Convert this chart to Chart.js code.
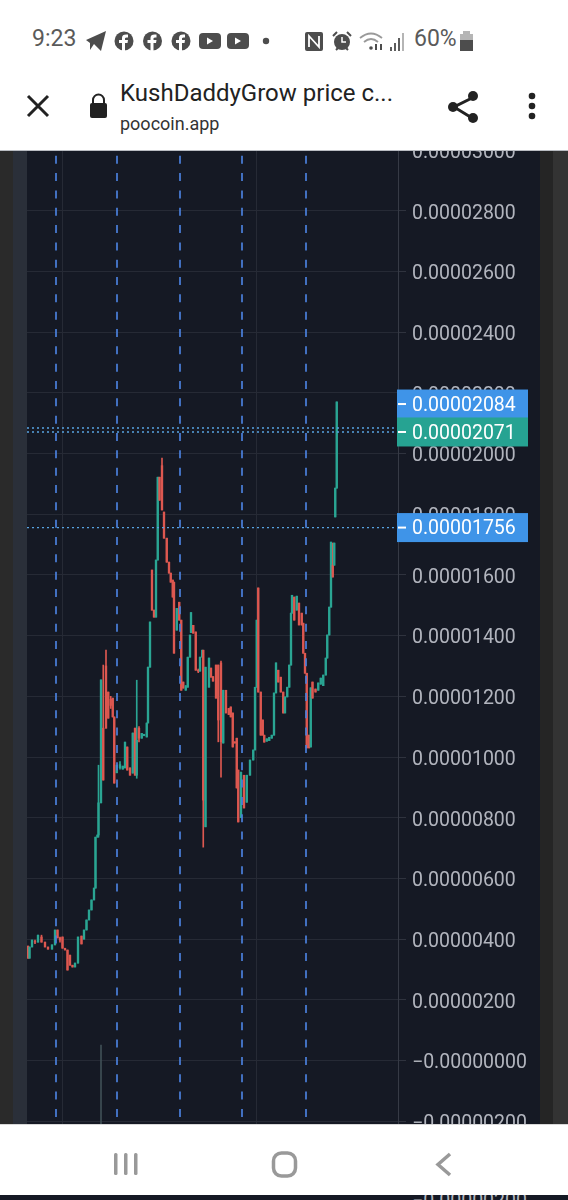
<!DOCTYPE html>
<html><head><meta charset="utf-8"><title>KushDaddyGrow price chart</title>
<script src="https://cdn.jsdelivr.net/npm/chart.js@4"></script>
<style>
html,body{margin:0;padding:0;background:#fff;width:568px;height:1200px;overflow:hidden;font-family:Roboto,sans-serif}
.abs{position:absolute}
#stage{position:absolute;left:0;top:0;width:568px;height:1200px;background:#151924}
#hdr{left:0;top:0;width:568px;height:151px;background:#fff;border-bottom:1.5px solid #b9bcc2;box-sizing:border-box;z-index:3}
#nav{left:0;top:1124px;width:568px;height:71px;background:#fff;border-top:1px solid #d8d8d8;box-sizing:border-box;z-index:3}
#bot{left:0;top:1195px;width:568px;height:5px;background:#151924;overflow:hidden;z-index:3}
svg{position:absolute;overflow:visible}
</style></head><body>
<div id="stage">
<div class="abs" style="left:0;top:0;width:13px;height:1200px;background:#2a2a2a"></div>
<div class="abs" style="left:13px;top:0;width:14px;height:1200px;background:#2a2f39"></div>
<div class="abs" style="left:540px;top:0;width:13px;height:1200px;background:#252525"></div>
<div class="abs" style="left:553px;top:0;width:15px;height:1200px;background:#333333"></div>
<canvas id="c" class="abs" style="left:27px;top:130px;width:513px;height:1015px"></canvas>
<div id="hdr" class="abs">
 <div class="abs" style="left:32px;top:25px;font-size:23px;color:#5a5a5a">9:23</div>
 <div class="abs" style="left:414px;top:25px;font-size:23px;color:#5a5a5a">60%</div>
 <svg style="left:0;top:0" width="568" height="150">
  <path d="M86 40 L106 31 L101 51 L94 44 L90 50 L90 43Z" fill="#4d4d4d"/>
  <g fill="#4d4d4d"><circle cx="124" cy="41" r="9.5"/><circle cx="152.500" cy="41" r="9.500"/><circle cx="181" cy="41" r="9.500"/>
  <rect x="199" y="33" width="22" height="16" rx="4"/><rect x="227" y="33" width="22" height="16" rx="4"/><circle cx="266" cy="41" r="3.200"/></g>
  <g fill="#fff"><path d="M122 51v-8h-3v-3h3v-2c0-3 2-4 6-3.500v3c-2 0-3 0-3 1v1.500h3l-.5 3H125v8z"/><path d="M150.500 51v-8h-3v-3h3v-2c0-3 2-4 6-3.500v3c-2 0-3 0-3 1v1.500h3l-.5 3h-2.500v8z"/><path d="M179 51v-8h-3v-3h3v-2c0-3 2-4 6-3.500v3c-2 0-3 0-3 1v1.500h3l-.5 3H182v8z"/>
  <path d="M207 37.500l6 3.500-6 3.500z"/><path d="M235 37.500l6 3.500-6 3.500z"/></g>
  <rect x="305" y="32" width="18" height="19" rx="2" fill="#4d4d4d"/><path d="M309 47V36l10 11V36" fill="none" stroke="#fff" stroke-width="1.800"/>
  <circle cx="342" cy="42" r="8" fill="#4d4d4d"/><path d="M342 37v5h4" stroke="#fff" stroke-width="1.500" fill="none"/><path d="M333 36l4-4M351 36l-4-4M336 50l2-2M348 50l-2-2" stroke="#4d4d4d" stroke-width="2"/>
  <g fill="none" stroke="#9a9a9a" stroke-width="1.800"><path d="M360 38q11-9 22 0"/><path d="M364 42q7-6 14 0"/></g><g fill="#4d4d4d"><circle cx="371" cy="48" r="1.800"/><rect x="375" y="44" width="2" height="6"/><rect x="380" y="44" width="2" height="6"/></g>
  <g fill="#5c5c5c"><rect x="390" y="47" width="2" height="4"/><rect x="394" y="43" width="2" height="8"/><rect x="398" y="38" width="2" height="13"/></g><rect x="402" y="33" width="2" height="18" fill="#b5b5b5"/>
  <rect x="460" y="34" width="13" height="17" fill="#b5b5b5"/><rect x="463" y="31" width="7" height="3" fill="#b5b5b5"/><rect x="460" y="40" width="13" height="11" fill="#4d4d4d"/>
  <path d="M28 96L48 116M48 96L28 116" stroke="#222" stroke-width="3" fill="none"/>
  <rect x="90" y="103" width="17" height="15" rx="2" fill="#222"/><path d="M93 103v-3a5.500 5.500 0 0 1 11 0v3" fill="none" stroke="#222" stroke-width="2"/>
  <path d="M472 98L454 107L472 118" stroke="#222" stroke-width="3" fill="none"/><circle cx="473" cy="96" r="5" fill="#222"/><circle cx="453" cy="107" r="5" fill="#222"/><circle cx="473" cy="118" r="5" fill="#222"/>
  <circle cx="532" cy="96" r="3.300" fill="#222"/><circle cx="532" cy="106" r="3.300" fill="#222"/><circle cx="532" cy="116" r="3.300" fill="#222"/>
 </svg>
 <div class="abs" style="left:120px;top:79px;font-size:24px;color:#222;white-space:nowrap">KushDaddyGrow price c...</div>
 <div class="abs" style="left:120px;top:113px;font-size:18px;color:#333;white-space:nowrap">poocoin.app</div>
</div>
<div id="nav" class="abs">
 <svg style="left:0;top:0" width="568" height="71">
  <g fill="#999"><rect x="114" y="28" width="3.500" height="22" rx="1.500"/><rect x="124" y="28" width="3.500" height="22" rx="1.500"/><rect x="134" y="28" width="3.500" height="22" rx="1.500"/></g>
  <rect x="273.500" y="28" width="22" height="23" rx="8" fill="none" stroke="#999" stroke-width="3.500"/>
  <path d="M450 29L438 39.500L450 50" fill="none" stroke="#999" stroke-width="3.500"/>
 </svg>
</div>
<div id="bot" class="abs"><div class="abs" style="left:412px;top:-6px;font-size:19.5px;color:#b2b5be;white-space:nowrap">−0.00000200</div></div>
</div>
<script>
// All prices in units of 1e-8
const candleTime=[0.4,1,2,3.2,4.4,5.8,7.2,8.4,10,11.2,12.2,13.2,14.2,15.2,16.2,17.2,18.2,19.2,20.4,21.8,22.8,23.8,24.8,25.8,26.8,27.4,28.2,28.6,29.6,30.5,31.6,32.5,33.5,34.3,34.9,35.9,37.2,38.3,39.2,40.1,41.2,42.3,43.2,43.9,44.8,45.9,46.8,47.9,48.4,49.2,50,50.8,51.6,52.3,53,54,54.8,55.9,56.8,57.5,58.3,58.8,59.9,60.9,61.7,62.5,63.5,64.3,65.2,65.6,66.5,67.5,68.5,69.2,70.1,70.5,71.4,72.8,73.6,74.4,75.6,76.5,77.6,78.5,79.6,80.7,81.5,82.3,83.1,83.9,84.5,85.6,86.8,87.9,89.2,90.5,91.2,91.9,92.5,93.5,94.3,94.9,95.9,96.9,97.9,98.8,99.6,100.5,101.5,102.5,103.2,104.1,104.9,105.6,106,106.9,107.9,108.8,109.9,110.5,111.2,111.9,112.8,113.5,114.2,115.4,116.5,117.5,118.5,119.5,120.1,120.9,121.6,122.3,122.9,123.3,123.9];
const open=[377,337,374,392,390,407,390,374,367,381,430,404,407,370,364,347,314,308,321,410,400,430,463,496,529,568,736,743,849,1095,1300,1214,1190,1194,1132,948,965,960,964,1033,964,947,1095,940,1095,1062,1070,1066,1112,1296,1616,1484,1461,1649,1922,1960,1807,1721,1642,1606,1583,1576,1418,1510,1451,1247,1220,1230,1329,1410,1434,1412,1286,1283,1329,1352,770,1230,1293,1265,1303,1303,1310,1046,1220,1160,1165,1145,1050,1062,957,800,940,851,940,990,1023,1230,1557,1214,1122,1072,1052,1054,1062,1072,1211,1286,1263,1214,1145,1198,1230,1303,1474,1527,1484,1507,1474,1441,1342,1276,1072,1033,1247,1224,1220,1240,1235,1270,1326,1402,1494,1632,1632,1791,1886];
const high=[377,374,397,397,413,413,390,374,381,430,430,407,407,370,364,347,314,321,407,410,430,463,496,529,568,736,743,973,1254,1303,1352,1214,1200,1194,1132,973,985,970,1049,1033,964,1079,1095,1253,1100,1078,1075,1112,1296,1445,1616,1484,1649,1922,1922,1985,1807,1721,1642,1606,1583,1576,1490,1510,1451,1247,1235,1329,1402,1476,1434,1412,1290,1329,1352,1352,1296,1326,1293,1265,1303,1303,1316,1220,1220,1160,1165,1145,1050,1062,957,950,940,940,990,1023,1230,1451,1557,1214,1122,1072,1060,1065,1072,1211,1310,1286,1263,1214,1198,1230,1303,1474,1533,1527,1530,1507,1474,1441,1342,1276,1072,1228,1247,1224,1244,1260,1270,1326,1402,1494,1708,1705,1705,1886,2170];
const low=[337,337,374,385,390,390,374,367,367,381,404,390,370,364,298,314,308,308,321,384,400,430,463,496,529,568,736,736,849,924,1095,1128,1160,1132,914,948,960,960,964,957,940,947,940,930,1050,1062,1070,1066,1112,1296,1484,1461,1461,1649,1846,1814,1721,1642,1606,1576,1527,1342,1418,1451,1220,1227,1220,1230,1329,1410,1408,1286,1278,1283,1329,703,770,1230,1263,1250,1194,1050,934,1046,1145,1140,1132,1033,1046,898,786,800,832,851,940,990,1023,1230,1214,1072,1072,1049,1052,1054,1062,1072,1211,1247,1214,1145,1145,1198,1230,1303,1474,1451,1484,1435,1435,1342,1276,1030,1030,1033,1194,1214,1220,1240,1235,1270,1326,1402,1494,1593,1632,1791,1886];
const close=[337,374,397,390,413,390,374,367,381,430,404,397,370,364,298,314,308,321,407,384,430,463,496,529,568,736,743,849,1254,924,1095,1128,1170,1132,914,973,975,970,1049,957,940,1079,940,1055,1062,1078,1075,1112,1296,1445,1484,1461,1649,1922,1846,1814,1721,1642,1606,1576,1527,1342,1490,1451,1220,1227,1235,1329,1402,1476,1408,1286,1283,1329,1352,858,1296,1326,1263,1250,1194,1122,1050,1220,1145,1140,1132,1033,1046,898,786,950,832,940,990,1023,1230,1451,1214,1072,1072,1049,1060,1065,1072,1211,1310,1247,1214,1145,1198,1230,1303,1474,1533,1451,1530,1435,1435,1342,1276,1030,1030,1228,1194,1214,1244,1260,1270,1326,1402,1494,1708,1593,1705,1886,2170];
const spikeTime=[29.6];
const spikeRange=[[-300,51]];
const markerTimes=[11.6,36,61.2,86,111.6];
const gridTimes=[14.2,91.8];
const yTicks=[3000,2800,2600,2400,2200,2000,1800,1600,1400,1200,1000,800,600,400,200,0,-200];
const yTickLabels=['0.00003000','0.00002800','0.00002600','0.00002400','0.00002200','0.00002000','0.00001800','0.00001600','0.00001400','0.00001200','0.00001000','0.00000800','0.00000600','0.00000400','0.00000200','−0.00000000','−0.00000200'];
const priceLines=[2084,2071,1756];
const priceTagText=['0.00002084','0.00002071','0.00001756'];
const priceTagColor=['#3f94e8','#26a392','#3f94e8'];
const priceTagShift=[-24,0,0];
const xMin=0,xMax=148.4,yMin=-278.4,yMax=3066;
const UP='#2aa593',DOWN='#dd5850';
const colors=open.map((o,i)=>close[i]>=o?UP:DOWN);
const TXT='#b2b5be';

const datasets=[
 {type:'bar',label:'spike',grouped:false,barThickness:1,backgroundColor:'#3f4f55',data:spikeTime.map((x,i)=>({x,y:spikeRange[i]})),order:5},
 {type:'bar',label:'wick',grouped:false,barThickness:1,backgroundColor:colors,data:candleTime.map((x,i)=>({x,y:[low[i],high[i]]})),order:3},
 {type:'bar',label:'body',grouped:false,barThickness:1.7,backgroundColor:colors,data:candleTime.map((x,i)=>({x,y:[open[i],close[i]]})),order:2}
];
markerTimes.forEach(t=>datasets.push({type:'line',label:'marker',data:[{x:t,y:yMax},{x:t,y:yMin}],borderColor:'#4a80dc',borderWidth:1.7,borderDash:[8,9.33],borderDashOffset:-8.4,pointRadius:0,order:1}));
priceLines.forEach(p=>datasets.push({type:'line',label:'price',data:[{x:xMin,y:p},{x:xMax,y:p}],borderColor:'#58a4e2',borderWidth:1.4,borderDash:[2,3],pointRadius:0,order:1}));

const tagPlugin={id:'tags',afterDraw(ch){
 const c=ch.ctx,ys=ch.scales.y,L=ch.chartArea.right;
 c.save();
 priceLines.forEach((p,i)=>{
  const y=ys.getPixelForValue(p)+priceTagShift[i];
  c.fillStyle=priceTagColor[i];c.fillRect(L-1,y-14.5,131,29);
  c.fillStyle='#fff';c.fillRect(L,y-1,8,2);
  c.font='19.5px Roboto';c.textAlign='left';c.textBaseline='middle';
  c.fillText(priceTagText[i],L+14,y+2);
 });
 c.restore();
}};

new Chart(document.getElementById('c'),{
 data:{datasets},
 plugins:[tagPlugin],
 options:{responsive:false,animation:false,events:[],devicePixelRatio:1,
  layout:{padding:0},
  plugins:{legend:{display:false},tooltip:{enabled:false},title:{display:false}},
  scales:{
   x:{type:'linear',min:xMin,max:xMax,offset:false,
    afterBuildTicks(a){a.ticks=gridTimes.map(v=>({value:v}));},
    afterFit(a){a.height=0;a.paddingTop=a.paddingBottom=a.paddingLeft=a.paddingRight=0;},
    ticks:{display:false},border:{display:false},
    grid:{offset:false,color:'#262a35',lineWidth:1,drawTicks:false}},
   y:{type:'linear',position:'right',min:yMin,max:yMax,
    afterBuildTicks(a){a.ticks=yTicks.map(v=>({value:v}));},
    afterFit(a){a.width=142;a.paddingTop=a.paddingBottom=a.paddingLeft=a.paddingRight=0;},
    ticks:{autoSkip:false,padding:6,labelOffset:3,color:TXT,font:{family:'Roboto',size:19.5},callback(v){return yTickLabels[yTicks.indexOf(v)];}},
    border:{display:true,color:'#363a45',width:1},
    grid:{color:'#262a35',tickColor:'#2f333e',tickLength:8,lineWidth:1}}
  }
 }
});
</script>
</body></html>
